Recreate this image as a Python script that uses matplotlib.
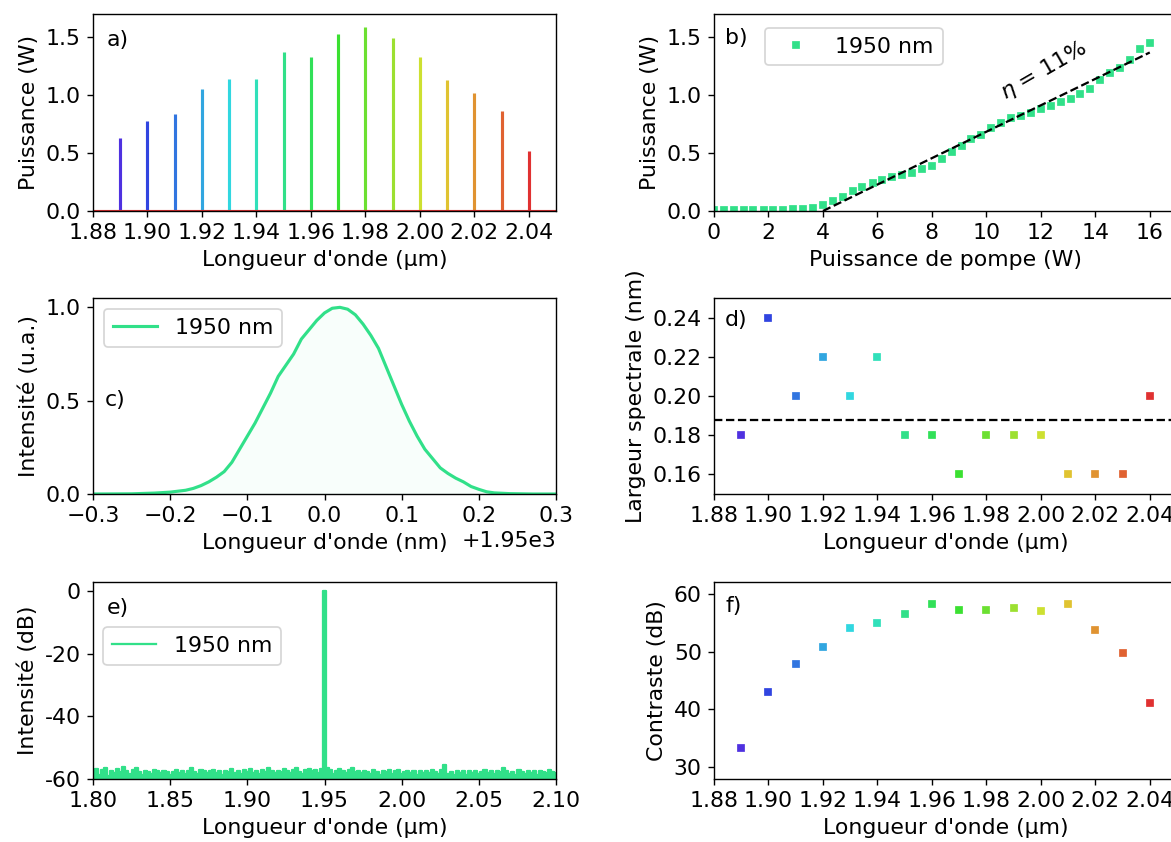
import numpy as np
import matplotlib.pyplot as plt
from matplotlib.colors import hsv_to_rgb

plt.rcParams['font.size'] = 12.7

# longueurs d'onde des lasers (um) et mesures associees
longueurs = [1.89, 1.90, 1.91, 1.92, 1.93, 1.94, 1.95, 1.96,
             1.97, 1.98, 1.99, 2.00, 2.01, 2.02, 2.03, 2.04]
puissances = [0.63, 0.78, 0.84, 1.05, 1.14, 1.14, 1.37, 1.33,
              1.53, 1.59, 1.49, 1.33, 1.13, 1.02, 0.86, 0.52]
largeurs = [0.18, 0.24, 0.20, 0.22, 0.20, 0.22, 0.18, 0.18,
            0.16, 0.18, 0.18, 0.18, 0.16, 0.16, 0.16, 0.20]
contrastes = [33.2, 43.0, 47.9, 50.9, 54.2, 54.9, 56.5, 58.2,
              57.2, 57.2, 57.5, 57.0, 58.2, 53.7, 49.7, 41.1]

# courbe d'efficacite a 1950 nm
pompe = [0.0, 0.36, 0.73, 1.09, 1.45, 1.82, 2.18, 2.55, 2.91, 3.27, 3.64,
         4.0, 4.36, 4.73, 5.09, 5.45, 5.82, 6.18, 6.55, 6.91, 7.27, 7.64,
         8.0, 8.36, 8.73, 9.09, 9.45, 9.82, 10.18, 10.55, 10.91, 11.27, 11.64,
         12.0, 12.36, 12.73, 13.09, 13.45, 13.82, 14.18, 14.55, 14.91, 15.27,
         15.64, 16.0]
p_sortie = [0.01, 0.005, 0.005, 0.005, 0.005, 0.005, 0.01, 0.012, 0.02, 0.02, 0.025,
            0.055, 0.09, 0.12, 0.17, 0.21, 0.24, 0.27, 0.29, 0.31, 0.33, 0.36,
            0.39, 0.45, 0.51, 0.56, 0.62, 0.66, 0.72, 0.76, 0.80, 0.82, 0.85,
            0.88, 0.91, 0.94, 0.97, 1.01, 1.05, 1.13, 1.19, 1.23, 1.30,
            1.40, 1.45]
seuil = 4.0
eta = 0.114

# spectre fin a 1950 nm (nm, u.a.)
lambda_nm = [1949.70, 1949.75, 1949.78, 1949.80, 1949.81, 1949.82, 1949.83, 1949.84,
             1949.85, 1949.86, 1949.87, 1949.88, 1949.89, 1949.90, 1949.91, 1949.92,
             1949.93, 1949.94, 1949.95, 1949.96, 1949.97, 1949.98, 1949.99, 1950.00,
             1950.01, 1950.02, 1950.03, 1950.04, 1950.05, 1950.06, 1950.07, 1950.08,
             1950.09, 1950.10, 1950.11, 1950.12, 1950.13, 1950.14, 1950.15, 1950.16,
             1950.17, 1950.18, 1950.19, 1950.20, 1950.21, 1950.22, 1950.24, 1950.27,
             1950.30]
intensite = [0.0, 0.001, 0.005, 0.01, 0.015, 0.02, 0.03, 0.045,
             0.065, 0.09, 0.12, 0.17, 0.24, 0.31, 0.38, 0.46,
             0.54, 0.63, 0.69, 0.75, 0.83, 0.88, 0.93, 0.97,
             0.995, 1.0, 0.99, 0.96, 0.91, 0.85, 0.78, 0.68,
             0.58, 0.48, 0.39, 0.31, 0.24, 0.19, 0.14, 0.11,
             0.085, 0.065, 0.04, 0.025, 0.012, 0.006, 0.002, 0.0,
             0.0]

# spectre large en dB (pas de 2 nm de 1.80 a 2.10 um)
spectre_db = [
    -57.8, -56.9, -58.6, -57.2, -56.5, -58.9, -57.6, -58.1, -56.8, -57.9,
    -56.2, -57.5, -58.4, -57.0, -56.4, -57.8, -58.7, -57.3, -57.9, -58.5,
    -57.1, -57.6, -58.2, -57.4, -57.9, -58.6, -57.7, -57.2, -58.0, -57.5,
    -58.3, -57.4, -56.6, -57.8, -58.4, -57.1, -57.6, -58.1, -57.5, -57.0,
    -58.2, -57.6, -58.8, -57.3, -57.9, -56.8, -58.0, -57.4, -58.5, -57.2,
    -57.7, -56.9, -58.1, -57.5, -58.3, -57.0, -57.8, -56.5, -57.6, -58.0,
    -57.3, -57.9, -56.9, -57.5, -58.2, -57.0, -56.6, -57.7, -58.4, -57.2,
    -56.7, -57.6, -57.1, -58.0, -56.9, 0.0, -56.5, -57.2, -58.3, -57.5,
    -56.8, -57.6, -58.1, -57.0, -56.6, -57.8, -57.3, -58.2, -57.5, -57.9,
    -58.4, -57.2, -57.7, -58.6, -57.4, -57.9, -57.1, -58.3, -57.6, -57.0,
    -58.5, -57.8, -57.3, -58.1, -57.6, -58.7, -57.4, -58.0, -57.5, -58.2,
    -57.1, -57.7, -58.4, -57.2, -55.6, -58.3, -57.9, -58.6, -57.4, -58.1,
    -57.6, -58.8, -57.3, -58.0, -57.5, -58.4, -57.7, -57.1, -58.2, -57.6,
    -58.5, -57.3, -57.9, -56.6, -57.4, -58.3, -57.8, -58.6, -57.2, -57.9,
    -58.4, -57.6, -58.0, -57.3, -58.7, -57.5, -57.9, -58.2, -57.1, -57.8,
    -58.1]
lambda_large = np.linspace(1.80, 2.10, len(spectre_db))

# couleurs : teinte du bleu-violet au rouge
teintes = np.linspace(250, 0, len(longueurs)) / 360
couleurs = [hsv_to_rgb((h, 0.78, 0.88)) for h in teintes]
vert = couleurs[longueurs.index(1.95)]

fig = plt.figure(figsize=(1171 / 125, 842 / 125), dpi=125)
W, H = 1171, 842
def boite(x, y, w, h):
    return [x / W, 1 - (y + h) / H, w / W, h / H]

ax_a = fig.add_axes(boite(93, 14, 463, 197))
ax_b = fig.add_axes(boite(714, 14, 463, 197))
ax_c = fig.add_axes(boite(93, 298, 463, 196))
ax_d = fig.add_axes(boite(714, 298, 463, 196))
ax_e = fig.add_axes(boite(93, 582, 463, 197))
ax_f = fig.add_axes(boite(714, 582, 463, 197))

# a) puissance des differents lasers
ax_a.vlines(longueurs, 0, puissances, colors=couleurs, lw=1.8)
ax_a.axhline(0, color=couleurs[-1], lw=1.8)
ax_a.set_xlim(1.88, 2.05)
ax_a.set_ylim(0, 1.7)
ax_a.set_xticks(np.arange(1.88, 2.041, 0.02))
ax_a.set_yticks([0, 0.5, 1.0, 1.5])
ax_a.set_xlabel("Longueur d'onde (µm)")
ax_a.set_ylabel("Puissance (W)")
ax_a.text(0.03, 0.87, "a)", transform=ax_a.transAxes, va="center")

# b) efficacite
ax_b.plot(pompe, p_sortie, "s", color=vert, ms=4, label="1950 nm")
x_fit = np.array([seuil, pompe[-1]])
ax_b.plot(x_fit, eta * (x_fit - seuil), "k--", lw=1.3)
ax_b.text(12.1, 1.21, r"$\eta$ = 11%", rotation=30, ha="center", va="center")
ax_b.set_xlim(0, 17)
ax_b.set_ylim(0, 1.7)
ax_b.set_xticks([0, 2, 4, 6, 8, 10, 12, 14, 16])
ax_b.set_yticks([0, 0.5, 1.0, 1.5])
ax_b.set_xlabel("Puissance de pompe (W)")
ax_b.set_ylabel("Puissance (W)")
ax_b.legend(loc="upper left", bbox_to_anchor=(0.11, 0.93), borderaxespad=0)
ax_b.text(0.024, 0.88, "b)", transform=ax_b.transAxes, va="center")

# c) spectre fin
ax_c.plot(lambda_nm, intensite, color=vert, lw=1.8, label="1950 nm")
ax_c.fill_between(lambda_nm, intensite, color=vert, alpha=0.03)
ax_c.set_xlim(1949.7, 1950.3)
ax_c.set_ylim(0, 1.05)
ax_c.set_yticks([0, 0.5, 1.0])
ax_c.set_xlabel("Longueur d'onde (nm)")
ax_c.set_ylabel("Intensité (u.a.)")
ax_c.legend(loc="upper left")
ax_c.text(0.026, 0.48, "c)", transform=ax_c.transAxes, va="center")

# d) largeur spectrale
for l, v, c in zip(longueurs, largeurs, couleurs):
    ax_d.plot(l, v, "s", color=c, ms=4)
ax_d.axhline(np.mean(largeurs), color="k", ls="--", lw=1.3)
ax_d.set_xlim(1.88, 2.05)
ax_d.set_ylim(0.15, 0.25)
ax_d.set_xticks(np.arange(1.88, 2.041, 0.02))
ax_d.set_yticks([0.16, 0.18, 0.20, 0.22, 0.24])
ax_d.set_xlabel("Longueur d'onde (µm)")
ax_d.set_ylabel("Largeur spectrale (nm)")
ax_d.text(0.024, 0.89, "d)", transform=ax_d.transAxes, va="center")

# e) spectre large en dB
ax_e.plot(lambda_large, spectre_db, color=vert, lw=1.3, label="1950 nm",
          drawstyle="steps-mid")
ax_e.fill_between(lambda_large, spectre_db, -60, color=vert, step="mid")
ax_e.set_xlim(1.80, 2.10)
ax_e.set_ylim(-60, 3)
ax_e.set_xticks([1.80, 1.85, 1.90, 1.95, 2.00, 2.05, 2.10])
ax_e.set_yticks([0, -20, -40, -60])
ax_e.set_yticklabels(["0", "-20", "-40", "-60"])
ax_e.set_xlabel("Longueur d'onde (µm)")
ax_e.set_ylabel("Intensité (dB)")
ax_e.legend(loc="upper left", bbox_to_anchor=(0.022, 0.77), borderaxespad=0)
ax_e.text(0.03, 0.87, "e)", transform=ax_e.transAxes, va="center")

# f) contraste
for l, v, c in zip(longueurs, contrastes, couleurs):
    ax_f.plot(l, v, "s", color=c, ms=4)
ax_f.set_xlim(1.88, 2.05)
ax_f.set_ylim(27.9, 62.1)
ax_f.set_xticks(np.arange(1.88, 2.041, 0.02))
ax_f.set_yticks([30, 40, 50, 60])
ax_f.set_xlabel("Longueur d'onde (µm)")
ax_f.set_ylabel("Contraste (dB)")
ax_f.text(0.024, 0.88, "f)", transform=ax_f.transAxes, va="center")

fig.savefig("out.png", dpi=125)
